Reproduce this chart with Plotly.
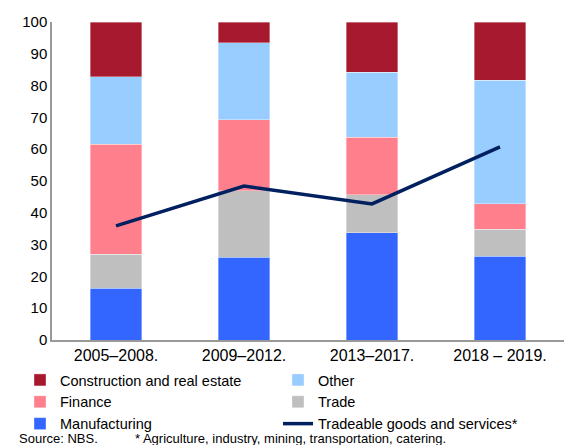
import plotly.graph_objects as go

W, H = 569, 445

periods = ["2005–2008.", "2009–2012.", "2013–2017.", "2018 – 2019."]

manufacturing = [16.3, 26.0, 33.7, 26.4]
trade = [10.7, 20.9, 11.9, 8.5]
finance = [34.6, 22.4, 18.1, 8.0]
other = [21.2, 24.1, 20.5, 38.8]
construction = [17.2, 6.6, 15.8, 18.3]
tradeable = [35.9, 48.4, 42.8, 60.7]

FONT = "Liberation Sans, Arial, sans-serif"

# (name, values, colour, legend column, order in column)
bars = [
    ("Manufacturing", manufacturing, "#3366FF", "legend", 3),
    ("Trade", trade, "#BFBFBF", "legend2", 2),
    ("Finance", finance, "#FF808C", "legend", 2),
    ("Other", other, "#99CCFF", "legend2", 1),
    ("Construction and real estate", construction, "#A6192E", "legend", 1),
]

fig = go.Figure()
for name, vals, color, leg, rank in bars:
    fig.add_trace(go.Bar(
        x=periods, y=vals, name=name, legend=leg, legendrank=rank,
        marker=dict(color=color, line=dict(color="rgba(255,255,255,0.6)", width=0.6)),
    ))

fig.add_trace(go.Scatter(
    x=periods, y=tradeable, mode="lines", name="Tradeable goods and services*",
    legend="legend2", legendrank=3,
    line=dict(color="#002060", width=3.5),
))

leg_common = dict(
    xref="container", yref="container", xanchor="left", yanchor="top",
    font=dict(family=FONT, size=14.5, color="#000"),
    bgcolor="rgba(0,0,0,0)", tracegroupgap=0, itemwidth=30,
    traceorder="normal",
)

fig.update_layout(
    width=W, height=H,
    barmode="stack", bargap=0.6,
    plot_bgcolor="white", paper_bgcolor="white",
    margin=dict(l=52, r=5, t=22, b=105, autoexpand=False),
    font=dict(family=FONT, size=15, color="#000"),
    xaxis=dict(showline=True, linecolor="#999", linewidth=1.5, ticks="",
               tickfont=dict(size=16), showgrid=False),
    yaxis=dict(range=[0, 100], dtick=10, showline=True, linecolor="#999", linewidth=1.5,
               ticks="", showgrid=False, zeroline=False, tickfont=dict(size=15)),
    legend=dict(x=20 / W, y=1 - 364 / H, **leg_common),
    legend2=dict(x=278 / W, y=1 - 364 / H, **leg_common),
    annotations=[
        dict(text="Source: NBS.", xref="paper", yref="paper", x=-0.068, y=0,
             xanchor="left", yanchor="top", yshift=-89, showarrow=False,
             font=dict(family=FONT, size=13)),
        dict(text="* Agriculture, industry, mining, transportation, catering.",
             xref="paper", yref="paper", x=0.158, y=0,
             xanchor="left", yanchor="top", yshift=-89, showarrow=False,
             font=dict(family=FONT, size=13)),
    ],
)

# the page's default body margin would push the fixed-size figure off by 8px
fig.write_html("out.html", config={"displayModeBar": False},
               post_script="document.body.style.margin='0';")
